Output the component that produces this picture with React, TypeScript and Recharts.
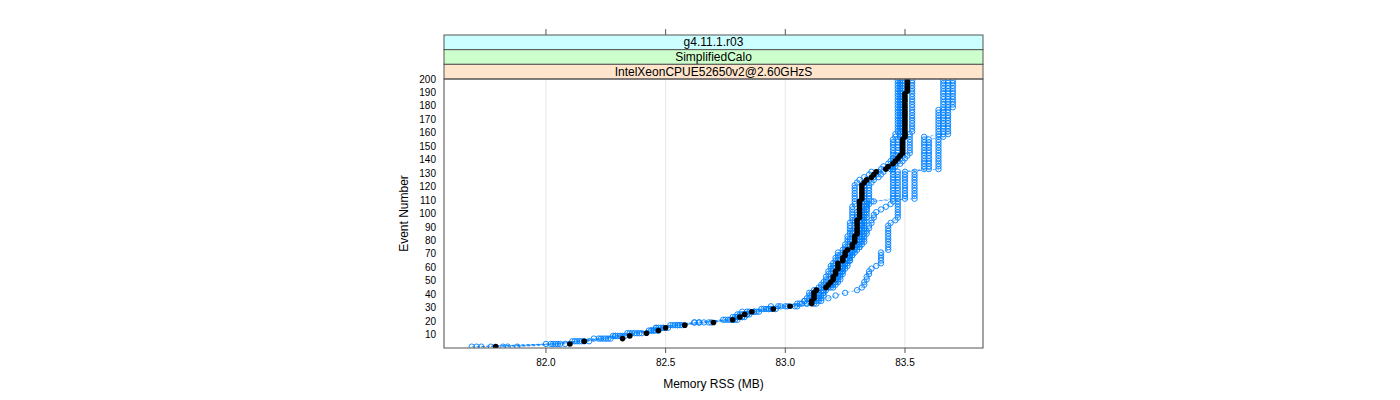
import React from 'react';
import { ScatterChart, Scatter, XAxis, YAxis, CartesianGrid } from 'recharts';

// memory RSS (MB) per event, read every 2nd event (1, 3, 5, ... 199)
const memBlack = [
  81.79, 82.10, 82.16, 82.32, 82.35, 82.42, 82.47, 82.50, 82.58, 82.70,
  82.78, 82.81, 82.83, 82.86, 82.95, 83.02, 83.11, 83.11, 83.12, 83.12,
  83.12, 83.13, 83.17, 83.18, 83.19, 83.20, 83.20, 83.21, 83.21, 83.22,
  83.22, 83.22, 83.24, 83.24, 83.25, 83.25, 83.26, 83.28, 83.28, 83.29,
  83.29, 83.29, 83.30, 83.30, 83.30, 83.30, 83.30, 83.30, 83.31, 83.31,
  83.31, 83.31, 83.31, 83.31, 83.31, 83.32, 83.32, 83.32, 83.32, 83.32,
  83.32, 83.33, 83.34, 83.36, 83.37, 83.38, 83.42, 83.43, 83.45, 83.46,
  83.47, 83.48, 83.49, 83.49, 83.49, 83.49, 83.49, 83.49, 83.50, 83.50,
  83.50, 83.50, 83.50, 83.50, 83.50, 83.50, 83.50, 83.50, 83.50, 83.50,
  83.50, 83.50, 83.50, 83.50, 83.50, 83.51, 83.51, 83.51, 83.51, 83.51,
];

const runL = [
  81.71, 82.02, 82.13, 82.27, 82.29, 82.34, 82.44, 82.46, 82.55, 82.62,
  82.74, 82.78, 82.80, 82.82, 82.91, 82.94, 83.07, 83.08, 83.09, 83.10,
  83.10, 83.12, 83.14, 83.15, 83.16, 83.17, 83.17, 83.18, 83.18, 83.19,
  83.19, 83.20, 83.21, 83.21, 83.22, 83.22, 83.24, 83.25, 83.25, 83.26,
  83.26, 83.26, 83.27, 83.27, 83.27, 83.27, 83.27, 83.28, 83.28, 83.28,
  83.28, 83.28, 83.28, 83.29, 83.29, 83.29, 83.29, 83.29, 83.29, 83.29,
  83.29, 83.30, 83.31, 83.33, 83.35, 83.36, 83.40, 83.41, 83.43, 83.44,
  83.45, 83.46, 83.47, 83.47, 83.47, 83.47, 83.47, 83.47, 83.48, 83.48,
  83.48, 83.48, 83.48, 83.48, 83.48, 83.48, 83.48, 83.48, 83.48, 83.48,
  83.48, 83.48, 83.48, 83.48, 83.48, 83.48, 83.48, 83.48, 83.48, 83.48,
];

const runM = [
  81.69, 82.05, 82.12, 82.20, 82.29, 82.36, 82.44, 82.46, 82.55, 82.66,
  82.76, 82.80, 82.84, 82.85, 82.92, 82.97, 83.06, 83.10, 83.14, 83.16,
  83.16, 83.17, 83.17, 83.19, 83.20, 83.21, 83.22, 83.22, 83.23, 83.23,
  83.23, 83.24, 83.25, 83.26, 83.26, 83.27, 83.28, 83.29, 83.30, 83.30,
  83.30, 83.31, 83.31, 83.31, 83.31, 83.32, 83.32, 83.32, 83.32, 83.32,
  83.32, 83.32, 83.33, 83.33, 83.33, 83.33, 83.33, 83.33, 83.33, 83.33,
  83.33, 83.34, 83.35, 83.37, 83.38, 83.39, 83.44, 83.44, 83.46, 83.47,
  83.48, 83.49, 83.49, 83.49, 83.49, 83.49, 83.49, 83.49, 83.49, 83.49,
  83.49, 83.49, 83.49, 83.49, 83.49, 83.49, 83.49, 83.49, 83.49, 83.49,
  83.49, 83.49, 83.49, 83.49, 83.49, 83.49, 83.49, 83.49, 83.49, 83.49,
];

const runR = [
  81.88, 82.08, 82.16, 82.23, 82.32, 82.39, 82.47, 82.49, 82.52, 82.62,
  82.80, 82.83, 82.85, 82.88, 82.94, 83.04, 83.13, 83.14, 83.15, 83.15,
  83.16, 83.16, 83.20, 83.21, 83.22, 83.23, 83.23, 83.24, 83.24, 83.25,
  83.25, 83.25, 83.27, 83.27, 83.28, 83.28, 83.29, 83.31, 83.31, 83.32,
  83.32, 83.32, 83.33, 83.33, 83.33, 83.33, 83.33, 83.33, 83.34, 83.34,
  83.34, 83.34, 83.34, 83.34, 83.34, 83.35, 83.35, 83.35, 83.35, 83.35,
  83.35, 83.36, 83.37, 83.39, 83.40, 83.41, 83.45, 83.46, 83.48, 83.49,
  83.50, 83.51, 83.52, 83.52, 83.52, 83.52, 83.52, 83.52, 83.52, 83.52,
  83.53, 83.53, 83.53, 83.53, 83.53, 83.53, 83.53, 83.53, 83.53, 83.53,
  83.53, 83.53, 83.53, 83.53, 83.53, 83.53, 83.53, 83.53, 83.53, 83.53,
];

const runA = [
  81.84, 82.03, 82.14, 82.25, 82.33, 82.40, 82.46, 82.48, 82.53, 82.64,
  82.77, 82.82, 82.84, 82.87, 82.93, 83.00, 83.09, 83.15, 83.18, 83.21,
  83.25, 83.30, 83.32, 83.33, 83.33, 83.34, 83.34, 83.35, 83.35, 83.36,
  83.38, 83.40, 83.40, 83.40, 83.40, 83.40, 83.43, 83.43, 83.43, 83.43,
  83.43, 83.43, 83.43, 83.43, 83.43, 83.43, 83.44, 83.46, 83.47, 83.47,
  83.47, 83.47, 83.47, 83.47, 83.47, 83.47, 83.47, 83.47, 83.47, 83.47,
  83.47, 83.47, 83.47, 83.47, 83.47, 83.47, 83.60, 83.60, 83.60, 83.60,
  83.60, 83.60, 83.60, 83.60, 83.60, 83.60, 83.60, 83.60, 83.66, 83.68,
  83.68, 83.68, 83.68, 83.68, 83.68, 83.68, 83.68, 83.68, 83.68, 83.68,
  83.68, 83.68, 83.68, 83.68, 83.68, 83.68, 83.68, 83.68, 83.68, 83.68,
];

const runB = [
  81.73, 82.06, 82.18, 82.26, 82.31, 82.38, 82.45, 82.51, 82.56, 82.68,
  82.79, 82.80, 82.82, 82.89, 82.96, 83.05, 83.12, 83.13, 83.14, 83.14,
  83.14, 83.16, 83.19, 83.19, 83.21, 83.22, 83.22, 83.23, 83.23, 83.24,
  83.26, 83.26, 83.27, 83.27, 83.28, 83.29, 83.30, 83.31, 83.32, 83.33,
  83.33, 83.33, 83.34, 83.34, 83.35, 83.35, 83.36, 83.36, 83.37, 83.37,
  83.38, 83.40, 83.42, 83.44, 83.45, 83.50, 83.50, 83.50, 83.50, 83.50,
  83.50, 83.50, 83.50, 83.50, 83.50, 83.50, 83.64, 83.64, 83.64, 83.64,
  83.64, 83.64, 83.64, 83.64, 83.64, 83.64, 83.64, 83.64, 83.64, 83.64,
  83.64, 83.64, 83.64, 83.64, 83.64, 83.64, 83.64, 83.64, 83.64, 83.70,
  83.70, 83.70, 83.70, 83.70, 83.70, 83.70, 83.70, 83.70, 83.70, 83.70,
];

const runC = [
  81.77, 82.00, 82.11, 82.22, 82.28, 82.35, 82.43, 82.47, 82.54, 82.64,
  82.75, 82.79, 82.81, 82.84, 82.90, 82.98, 83.05, 83.08, 83.10, 83.11,
  83.11, 83.13, 83.15, 83.16, 83.17, 83.18, 83.19, 83.19, 83.20, 83.20,
  83.20, 83.21, 83.22, 83.22, 83.23, 83.24, 83.25, 83.26, 83.27, 83.27,
  83.27, 83.28, 83.28, 83.28, 83.29, 83.29, 83.29, 83.29, 83.30, 83.30,
  83.30, 83.31, 83.32, 83.34, 83.37, 83.45, 83.45, 83.45, 83.45, 83.45,
  83.45, 83.45, 83.45, 83.45, 83.45, 83.45, 83.45, 83.45, 83.45, 83.45,
  83.45, 83.45, 83.45, 83.45, 83.45, 83.45, 83.45, 83.45, 83.46, 83.46,
  83.47, 83.47, 83.47, 83.47, 83.47, 83.47, 83.47, 83.47, 83.47, 83.47,
  83.47, 83.47, 83.47, 83.47, 83.47, 83.47, 83.47, 83.47, 83.47, 83.47,
];

const runD = [
  81.82, 82.04, 82.15, 82.24, 82.30, 82.37, 82.45, 82.49, 82.57, 82.69,
  82.78, 82.82, 82.84, 82.87, 82.93, 83.01, 83.09, 83.12, 83.13, 83.13,
  83.14, 83.15, 83.18, 83.20, 83.21, 83.21, 83.22, 83.23, 83.24, 83.24,
  83.24, 83.25, 83.26, 83.27, 83.27, 83.28, 83.28, 83.30, 83.30, 83.31,
  83.31, 83.31, 83.31, 83.32, 83.32, 83.32, 83.33, 83.33, 83.33, 83.33,
  83.33, 83.34, 83.34, 83.35, 83.36, 83.54, 83.54, 83.54, 83.54, 83.54,
  83.54, 83.54, 83.54, 83.54, 83.54, 83.54, 83.58, 83.58, 83.58, 83.58,
  83.58, 83.58, 83.58, 83.58, 83.58, 83.58, 83.58, 83.58, 83.58, 83.66,
  83.66, 83.66, 83.66, 83.66, 83.66, 83.66, 83.66, 83.66, 83.66, 83.66,
  83.66, 83.66, 83.66, 83.66, 83.66, 83.66, 83.66, 83.66, 83.66, 83.66,
];

const blueRuns = [runL, runM, runR, runA, runB, runC, runD];

const memTicks = [82.0, 82.5, 83.0, 83.5];
const eventTicks = [10, 20, 30, 40, 50, 60, 70, 80, 90, 100, 110, 120, 130, 140, 150, 160, 170, 180, 190, 200];

const stripLabels = ['g4.11.1.r03', 'SimplifiedCalo', 'IntelXeonCPUE52650v2@2.60GHzS'];
const stripFills = ['#ccffff', '#ccffcc', '#ffe5cc'];

// event number of each array slot
const events = memBlack.map((_, i) => 2 * i + 1);
const toPoints = (run: number[]) => events.map((ev, i) => ({ ev, mem: run[i] }));

// layout
const W = 1400;
const H = 400;
const PANEL_L = 444;
const PANEL_R = 983;
const PANEL_T = 79;
const PANEL_B = 348;
const STRIP_TOP = 35;
const STRIP_H = (PANEL_T - STRIP_TOP) / 3;
const FONT = '"Liberation Sans", Arial, Helvetica, sans-serif';
const EDGE = '#555';

const OpenCircle = (p: any) => (
  <circle cx={p.cx} cy={p.cy} r={2.7} fill="none" stroke="#0080ff" strokeWidth={0.9} />
);
const BlackDot = (p: any) => <circle cx={p.cx} cy={p.cy} r={2.8} fill="#000" />;

// bottom tick label, plus the matching tick on top of the strips
const XTick = ({ x, y, payload }: any) => (
  <g>
    <line x1={x} x2={x} y1={STRIP_TOP - 6} y2={STRIP_TOP} stroke={EDGE} />
    <text x={x} y={y} dy={11} textAnchor="middle" fontSize={10} fill="#000">
      {Number(payload.value).toFixed(1)}
    </text>
  </g>
);

export default function App() {
  return (
    <div style={{ position: 'absolute', left: 0, top: 0, width: W, height: H, background: '#fff' }}>
      <ScatterChart
        width={W}
        height={H}
        margin={{ top: PANEL_T, right: W - PANEL_R, bottom: 0, left: 0 }}
        style={{ fontFamily: FONT }}
      >
        <CartesianGrid horizontal={false} stroke="#e6e6e6" />
        <XAxis
          dataKey="mem"
          type="number"
          domain={[81.574, 83.826]}
          allowDataOverflow
          ticks={memTicks}
          interval={0}
          height={H - PANEL_B}
          tickSize={5}
          tickMargin={2}
          axisLine={false}
          tickLine={{ stroke: EDGE }}
          tick={<XTick />}
        />
        <YAxis
          dataKey="ev"
          type="number"
          domain={[0, 200]}
          allowDataOverflow
          ticks={eventTicks}
          interval={0}
          width={PANEL_L}
          axisLine={false}
          tickLine={false}
          tick={{ fontSize: 10, fill: '#000' }}
        />
        {blueRuns.map((run, i) => (
          <Scatter
            key={i}
            data={toPoints(run)}
            isAnimationActive={false}
            line={{ stroke: '#0080ff', strokeOpacity: 0.55, strokeDasharray: '3 2', strokeWidth: 1 }}
            lineType="joint"
            shape={OpenCircle}
          />
        ))}
        <Scatter data={toPoints(memBlack)} isAnimationActive={false} shape={BlackDot} />
      </ScatterChart>

      <svg
        width={W}
        height={H}
        style={{ position: 'absolute', left: 0, top: 0, pointerEvents: 'none', fontFamily: FONT }}
      >
        {stripLabels.map((label, i) => (
          <g key={label}>
            <rect
              x={PANEL_L}
              y={STRIP_TOP + i * STRIP_H}
              width={PANEL_R - PANEL_L}
              height={STRIP_H}
              fill={stripFills[i]}
              stroke={EDGE}
            />
            <text
              x={(PANEL_L + PANEL_R) / 2}
              y={STRIP_TOP + i * STRIP_H + STRIP_H / 2 + 4}
              textAnchor="middle"
              fontSize={12}
              fill="#000"
            >
              {label}
            </text>
          </g>
        ))}
        <rect x={PANEL_L} y={PANEL_T} width={PANEL_R - PANEL_L} height={PANEL_B - PANEL_T} fill="none" stroke={EDGE} />
        <text x={(PANEL_L + PANEL_R) / 2} y={388} textAnchor="middle" fontSize={12} fill="#000">
          Memory RSS (MB)
        </text>
        <text
          transform={`translate(408, ${(PANEL_T + PANEL_B) / 2}) rotate(-90)`}
          textAnchor="middle"
          fontSize={12}
          fill="#000"
        >
          Event Number
        </text>
      </svg>
    </div>
  );
}
